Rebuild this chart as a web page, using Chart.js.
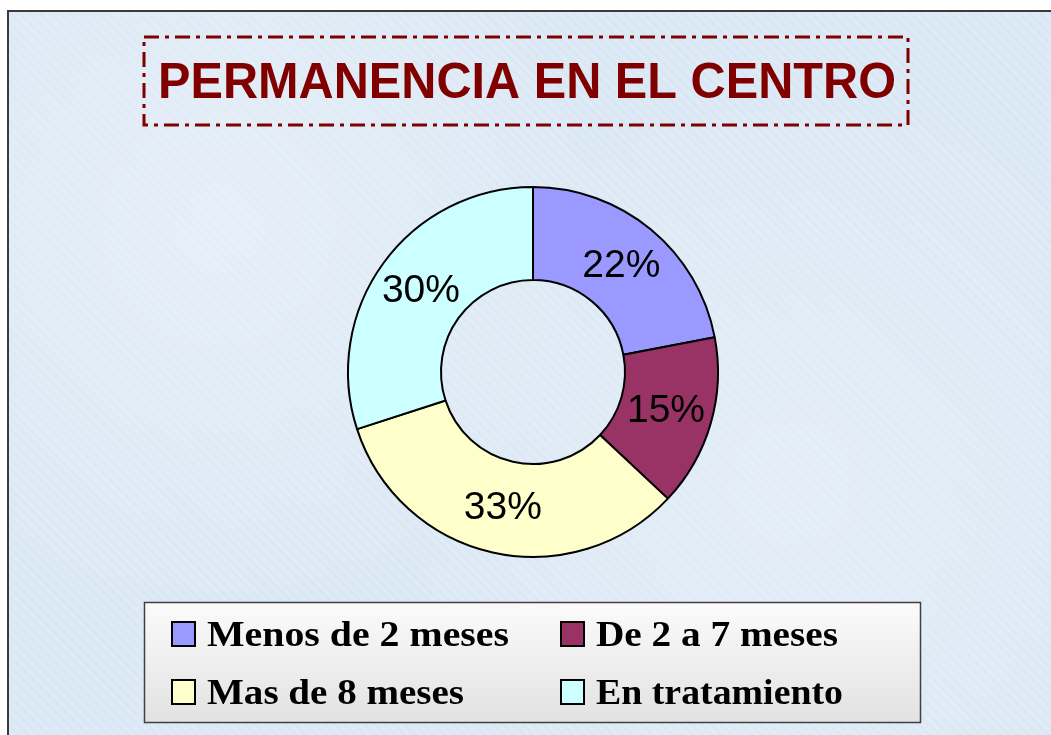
<!DOCTYPE html>
<html>
<head>
<meta charset="utf-8">
<script src="https://cdn.jsdelivr.net/npm/chart.js@4/dist/chart.umd.min.js"></script>
<style>
  html, body { margin: 0; padding: 0; background: #ffffff; width: 1051px; height: 735px; overflow: hidden; }
  #frame {
    position: absolute; left: 7px; top: 10px; width: 1044px; height: 725px;
    border-left: 2px solid #3a3a3a; border-top: 2px solid #3a3a3a;
    background-color: #dce9f5;
    background-image:
      radial-gradient(circle at 20% 30%, rgba(255,255,255,0.3) 0, rgba(255,255,255,0) 40%),
      radial-gradient(circle at 75% 65%, rgba(255,255,255,0.25) 0, rgba(255,255,255,0) 45%),
      repeating-linear-gradient(45deg, rgba(190,210,230,0.08) 0 3px, rgba(255,255,255,0.06) 3px 7px);
  }
  #c { position: absolute; left: 0; top: 0; }
</style>
</head>
<body>
<div id="frame"></div>
<canvas id="c" width="1051" height="735"></canvas>
<script>
const titleText = "PERMANENCIA EN EL CENTRO";
const categories = ["Menos de 2 meses", "De 2 a 7 meses", "Mas de 8 meses", "En tratamiento"];
const percentages = [22, 15, 33, 30];
const sliceColors = ["#9999FF", "#993366", "#FFFFCC", "#CCFFFF"];

const titlePlugin = {
  id: 'dashTitle',
  afterDraw(chart) {
    const ctx = chart.ctx;
    ctx.save();
    ctx.strokeStyle = '#800000';
    ctx.lineWidth = 3;
    ctx.setLineDash([15, 6, 4, 6]);
    ctx.strokeRect(144, 37, 764, 88);
    ctx.setLineDash([]);
    ctx.fillStyle = '#800000';
    ctx.font = 'bold 50px "Liberation Sans", Arial, sans-serif';
    ctx.textBaseline = 'alphabetic';
    const w = ctx.measureText(titleText).width;
    const target = 738;
    ctx.translate(158, 98);
    ctx.scale(target / w, 1);
    ctx.fillText(titleText, 0, 0);
    ctx.restore();
  }
};

const labelPlugin = {
  id: 'sliceLabels',
  afterDatasetsDraw(chart) {
    const ctx = chart.ctx;
    const meta = chart.getDatasetMeta(0);
    ctx.save();
    ctx.fillStyle = '#000000';
    ctx.font = '39px "Liberation Sans", Arial, sans-serif';
    ctx.textAlign = 'center';
    ctx.textBaseline = 'middle';
    meta.data.forEach((arc, i) => {
      const p = arc.tooltipPosition();
      ctx.fillText(percentages[i] + '%', p.x, p.y + 1);
    });
    ctx.restore();
  }
};

const legendPlugin = {
  id: 'boxLegend',
  afterDraw(chart) {
    const ctx = chart.ctx;
    const bx = 144, by = 602, bw = 776, bh = 120;
    ctx.save();
    const g = ctx.createLinearGradient(0, by, 0, by + bh);
    g.addColorStop(0, '#fbfbfb');
    g.addColorStop(1, '#e2e2e2');
    ctx.fillStyle = g;
    ctx.fillRect(bx, by, bw, bh);
    ctx.strokeStyle = '#404040';
    ctx.lineWidth = 1.5;
    ctx.strokeRect(bx + 0.5, by + 0.5, bw, bh);

    const colX = [172, 561];
    const rowY = [634, 692];
    const targetW = [302, 242, 257, 247];
    ctx.font = 'bold 36px "Liberation Serif", "Times New Roman", serif';
    ctx.textBaseline = 'alphabetic';
    categories.forEach((lab, i) => {
      const cx = colX[i % 2], cy = rowY[Math.floor(i / 2)];
      ctx.fillStyle = sliceColors[i];
      ctx.fillRect(cx, cy - 12, 23, 24);
      ctx.strokeStyle = '#000000';
      ctx.lineWidth = 2;
      ctx.strokeRect(cx, cy - 12, 23, 24);
      ctx.fillStyle = '#000000';
      const w = ctx.measureText(lab).width;
      ctx.save();
      ctx.translate(cx + 35, cy + 12);
      ctx.scale(targetW[i] / w, 1);
      ctx.fillText(lab, 0, 0);
      ctx.restore();
    });
    ctx.restore();
  }
};

new Chart(document.getElementById('c'), {
  type: 'doughnut',
  data: {
    labels: categories,
    datasets: [{
      data: percentages,
      backgroundColor: sliceColors,
      borderColor: '#000000',
      borderWidth: 2
    }]
  },
  options: {
    responsive: false,
    animation: false,
    radius: 185,
    cutout: 92,
    layout: { padding: { left: 347, right: 332, top: 186, bottom: 177 } },
    plugins: {
      legend: { display: false },
      tooltip: { enabled: false },
      title: { display: false }
    }
  },
  plugins: [titlePlugin, labelPlugin, legendPlugin]
});
</script>
</body>
</html>
